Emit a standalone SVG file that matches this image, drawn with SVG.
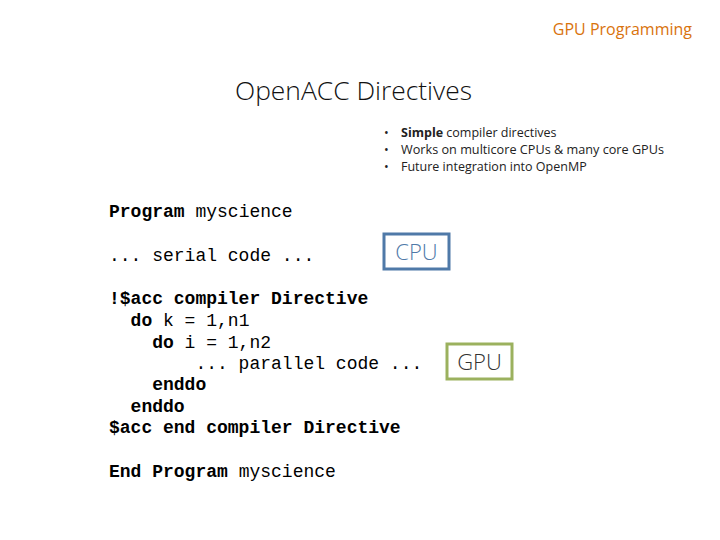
<svg xmlns="http://www.w3.org/2000/svg" width="720" height="540" viewBox="0 0 720 540">
<style>
.s{font-family:"Open Sans","Liberation Sans",sans-serif}
.c{font-family:"Liberation Mono",monospace;font-size:18px;fill:#000;white-space:pre}
.b{font-weight:bold}
.bl{font-family:"Open Sans","Liberation Sans",sans-serif;font-size:12.5px;fill:#222}
</style>
<rect width="720" height="540" fill="#fff"/>
<text class="s" x="692" y="35" font-size="16" fill="#d9730d" text-anchor="end">GPU Programming</text>
<text class="s" x="235" y="100" font-size="26" font-weight="300" fill="#111" textLength="237" lengthAdjust="spacingAndGlyphs">OpenACC Directives</text>
<g id="bullets">
<text class="bl" x="384" y="137">•</text>
<text class="bl" x="384" y="154">•</text>
<text class="bl" x="384" y="171">•</text>
<text class="bl" x="401" y="137"><tspan font-weight="bold">Simple</tspan> compiler directives</text>
<text class="bl" x="401" y="154" textLength="263" lengthAdjust="spacingAndGlyphs">Works on multicore CPUs &amp; many core GPUs</text>
<text class="bl" x="401" y="171">Future integration into OpenMP</text>
</g>
<g id="code">
<text class="c" x="109" y="217"><tspan class="b">Program</tspan> myscience</text>
<text class="c" x="109" y="261">... serial code ...</text>
<text class="c" x="109" y="304"><tspan class="b">!$acc compiler Directive</tspan></text>
<text class="c" x="109" y="326"><tspan class="b">  do</tspan> k = 1,n1</text>
<text class="c" x="109" y="348"><tspan class="b">    do</tspan> i = 1,n2</text>
<text class="c" x="109" y="369">        ... parallel code ...</text>
<text class="c" x="109" y="390"><tspan class="b">    enddo</tspan></text>
<text class="c" x="109" y="412"><tspan class="b">  enddo</tspan></text>
<text class="c" x="109" y="433"><tspan class="b">$acc end compiler Directive</tspan></text>
<text class="c" x="109" y="477"><tspan class="b">End Program</tspan> myscience</text>
</g>
<g id="cpu">
<rect x="384" y="234" width="65" height="35" fill="none" stroke="#4f79a8" stroke-width="3"/>
<text class="s" x="416.5" y="260" font-size="22" font-weight="300" fill="#4f79a8" text-anchor="middle">CPU</text>
</g>
<g id="gpu">
<rect x="447" y="344" width="65" height="35" fill="none" stroke="#9bb15e" stroke-width="3"/>
<text class="s" x="479.5" y="370" font-size="22" font-weight="300" fill="#333" text-anchor="middle">GPU</text>
</g>
<g id="connectors"/>
</svg>
